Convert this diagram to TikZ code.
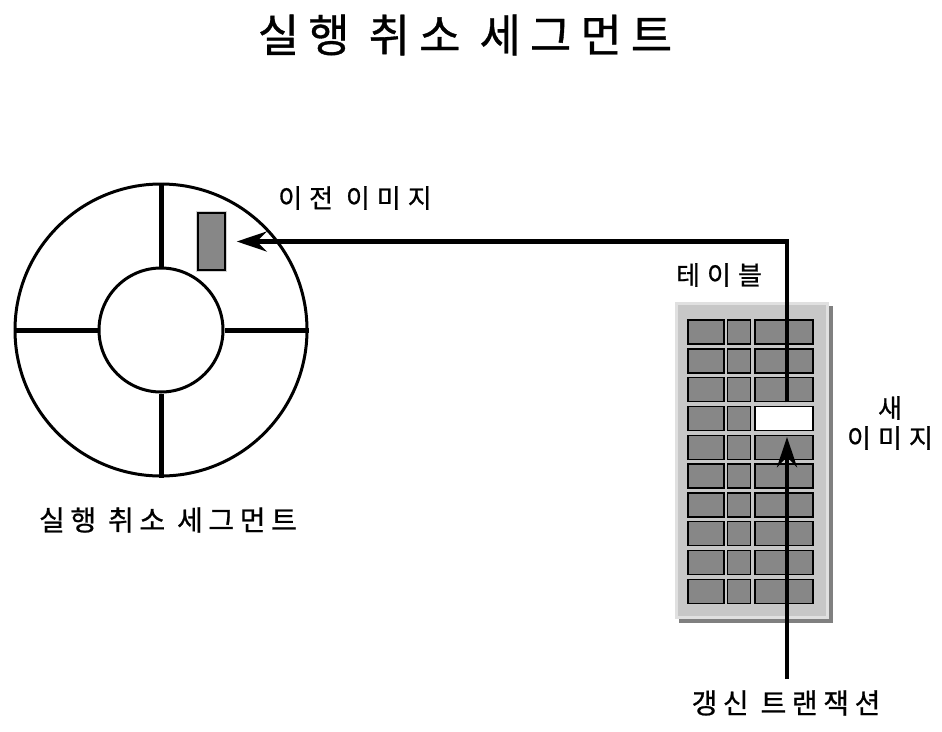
\documentclass[tikz,border=0pt]{standalone}
\usepackage{fontspec}
\newfontfamily\kr[LetterSpace=27, FakeBold=0.8]{Noto Sans CJK KR}
\newfontfamily\krt[LetterSpace=20, FakeBold=0.8]{Noto Sans CJK KR}
\usetikzlibrary{arrows.meta}

\begin{document}
\begin{tikzpicture}[x=1pt, y=-1pt,
      lbl/.style={inner sep=0pt, font=\kr\fontsize{26}{30}\selectfont},
      bigl/.style={inner sep=0pt, font=\krt\fontsize{28}{32}\selectfont},
      ring/.style={circle, draw, line width=3pt, inner sep=0pt},
      spoke/.style={line width=5pt},
      cell/.style={draw, line width=1.4pt, minimum height=24pt, inner sep=0pt},
      parr/.style={line width=4.5pt, -{Stealth[length=30pt, width=20pt, inset=10pt]}}]
    \useasboundingbox (0,0) rectangle (942,731);
    \node[bigl, font=\krt\fontsize{45}{50}\selectfont] (title) at (465,35) {실행 취소 세그먼트};

    % rollback segment
    \node[ring, minimum size=292pt] (seg) at (161,330) {};
    \node[ring, minimum size=124pt] (hub) at (161,330) {};
    \draw[spoke] (seg.north) -- (hub.north); \draw[spoke] (seg.south) -- (hub.south);
    \draw[spoke] (seg.west) -- (hub.west); \draw[spoke] (seg.east) -- (hub.east);
    \node[draw, line width=1.5pt, fill=black!47, minimum width=27pt, minimum height=57pt,
          inner sep=0pt, preaction={draw=black!18, line width=4pt}] (oldimg) at (211.5,241.5) {};
    \node[bigl] (lseg) at (168,520) {실행 취소 세그먼트};
    \node[lbl] (lold) at (355,198) {이전 이미지};

    % table
    \fill[black!50] (679,306) rectangle (833,623);
    \node[draw=black!12, line width=3pt, fill=black!22, minimum width=151pt, minimum height=314pt,
          inner sep=0pt] (tbl) at (752,460.5) {};
    \foreach \r in {1,...,10} {
      \pgfmathsetmacro\yy{332+28.8*(\r-1)}
      \ifnum\r=4 \def\fc{white}\else\def\fc{black!47}\fi
      \node[cell, fill=black!47, minimum width=36pt] (c-\r-1) at (706,\yy) {};
      \node[cell, fill=black!47, minimum width=23pt] (c-\r-2) at (739,\yy) {};
      \node[cell, fill=\fc, minimum width=58pt] (c-\r-3) at (784,\yy) {};
    }
    \node[lbl] (ltbl) at (719,275) {테이블};
    \node[lbl, align=center] (lnew) at (890,423) {새\\이미지};
    \node[bigl] (ltxn) at (786,703) {갱신 트랜잭션};

    \draw[parr, shorten >=11pt] ([xshift=3pt]c-3-3.south) |- (oldimg.east);
    \draw[parr, shorten <=11pt, shorten >=6pt] ([xshift=1pt]ltxn.north) -- ([xshift=3pt]c-4-3.south);
  \end{tikzpicture}
\end{document}
